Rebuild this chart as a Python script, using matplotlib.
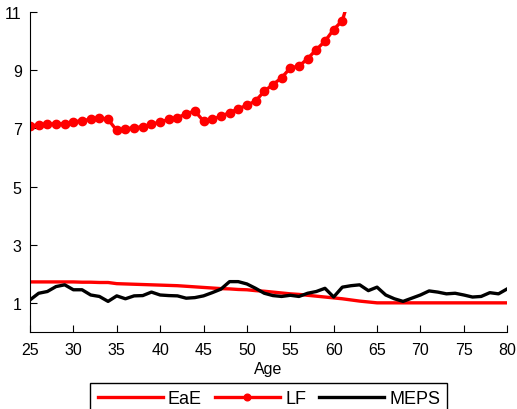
import matplotlib
matplotlib.use('Agg')
import matplotlib.pyplot as plt
import numpy as np

plt.rcParams['font.family'] = ['Liberation Sans', 'DejaVu Sans']

ages = np.arange(25, 81)

# EaE profile, ages 25-80
eae = [1.72, 1.72, 1.72, 1.72, 1.72, 1.72, 1.71, 1.71, 1.70, 1.70,
       1.66, 1.65, 1.64, 1.63, 1.62, 1.61, 1.60, 1.59, 1.57, 1.55,
       1.53, 1.51, 1.49, 1.48, 1.46, 1.45, 1.42, 1.40, 1.37, 1.34,
       1.31, 1.29, 1.26, 1.23, 1.20, 1.17, 1.14, 1.10, 1.06, 1.03,
       1.00, 1.00, 1.00, 1.00, 1.00, 1.00, 1.00, 1.00, 1.00, 1.00,
       1.00, 1.00, 1.00, 1.00, 1.00, 1.00]

# LF only runs to 62 (last point goes off the top)
lf_ages = np.arange(25, 63)
lf = [7.10, 7.11, 7.14, 7.16, 7.16, 7.22, 7.27, 7.31, 7.37, 7.31,
      6.93, 6.99, 7.02, 7.06, 7.14, 7.22, 7.31, 7.37, 7.50, 7.60,
      7.25, 7.31, 7.42, 7.54, 7.67, 7.80, 7.94, 8.28, 8.51, 8.74,
      9.08, 9.14, 9.40, 9.71, 10.00, 10.40, 10.71, 11.70]

meps = [1.10, 1.33, 1.39, 1.56, 1.62, 1.45, 1.45, 1.27, 1.22, 1.05,
        1.24, 1.14, 1.24, 1.25, 1.37, 1.27, 1.25, 1.24, 1.16, 1.18,
        1.24, 1.35, 1.47, 1.73, 1.73, 1.65, 1.50, 1.33, 1.25, 1.22,
        1.26, 1.22, 1.33, 1.39, 1.50, 1.20, 1.54, 1.59, 1.62, 1.42,
        1.54, 1.27, 1.14, 1.05, 1.16, 1.27, 1.41, 1.37, 1.31, 1.33,
        1.27, 1.20, 1.22, 1.35, 1.31, 1.48]

fig = plt.figure(figsize=(5.17, 4.10), dpi=100)
ax = fig.add_axes([0.058, 0.188, 0.923, 0.780])

ax.plot(ages, eae, color='#ff0000', lw=2.4, label='EaE')
ax.plot(lf_ages, lf, color='#ff0000', lw=2.4, marker='o', ms=6, label='LF')
ax.plot(ages, meps, color='black', lw=2.4, label='MEPS')

ax.set_xlim(25, 80)
ax.set_ylim(0, 11)
ax.set_xticks(np.arange(25, 81, 5))
ax.set_yticks([1, 3, 5, 7, 9, 11])
ax.tick_params(direction='in', length=5, labelsize=11.5, width=0.8)
ax.tick_params(axis='x', pad=7)
ax.tick_params(axis='y', pad=6)
ax.spines['top'].set_visible(False)
ax.spines['right'].set_visible(False)
ax.set_xlabel('Age', fontsize=11.5, labelpad=3)

leg = fig.legend(loc='upper center', bbox_to_anchor=(0.52, 0.064), ncol=3,
                 fontsize=13, handlelength=3.6, columnspacing=0.7,
                 handletextpad=0.3, borderpad=0.4, borderaxespad=0,
                 numpoints=1, markerscale=0.8,
                 fancybox=False, framealpha=1, edgecolor='black')
leg.get_frame().set_linewidth(1.0)

fig.savefig('out.png', dpi=100)
